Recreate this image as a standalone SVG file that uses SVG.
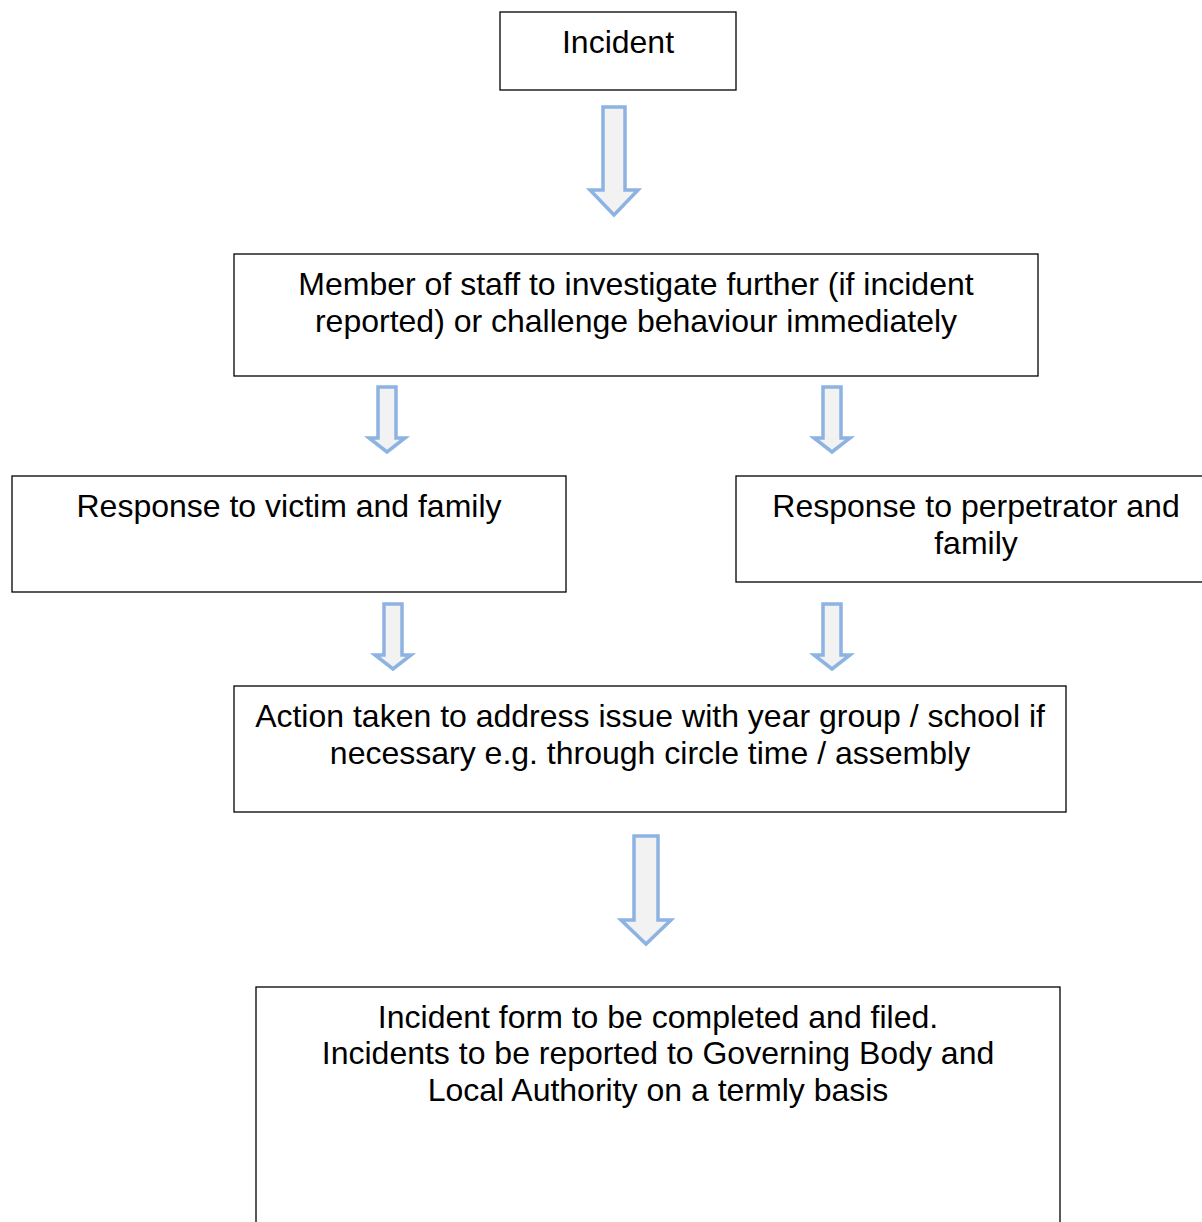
<svg xmlns="http://www.w3.org/2000/svg" width="1202" height="1222" viewBox="0 0 1202 1222">
<style>
.box{fill:#fff;stroke:#000;stroke-width:1.3}
.t{font-family:"Liberation Sans",Arial,sans-serif;font-size:32px;fill:#000;text-anchor:middle}
.arr{fill:#f2f2f2;stroke:#8db3e2;stroke-width:3.5;stroke-linejoin:miter}
</style>
<rect width="1202" height="1222" fill="#fff"/>
<g id="connectors">
<polygon class="arr" points="603,107 625,107 625,190 638,190 614,215 590,190 603,190"/>
<polygon class="arr" points="378,387 396,387 396,438 405,438 387,452 369,438 378,438"/>
<polygon class="arr" points="823,387 841,387 841,438 850,438 832,452 814,438 823,438"/>
<polygon class="arr" points="384,604 402,604 402,655 411,655 393,669 375,655 384,655"/>
<polygon class="arr" points="823,604 841,604 841,655 850,655 832,669 814,655 823,655"/>
<polygon class="arr" points="634,836 658,836 658,920 671,920 646,944 621,920 634,920"/>
</g>
<g id="incident">
<rect class="box" x="500" y="12" width="236" height="78"/>
<text class="t" x="618" y="53">Incident</text>
</g>
<g id="staff">
<rect class="box" x="234" y="254" width="804" height="122"/>
<text class="t" x="636" y="295">Member of staff to investigate further (if incident</text>
<text class="t" x="636" y="332">reported) or challenge behaviour immediately</text>
</g>
<g id="victim">
<rect class="box" x="12" y="476" width="554" height="116"/>
<text class="t" x="289" y="517">Response to victim and family</text>
</g>
<g id="perpetrator">
<rect class="box" x="736" y="476" width="480" height="106"/>
<text class="t" x="976" y="517">Response to perpetrator and</text>
<text class="t" x="976" y="554">family</text>
</g>
<g id="action">
<rect class="box" x="234" y="686" width="832" height="126"/>
<text class="t" x="650" y="727">Action taken to address issue with year group / school if</text>
<text class="t" x="650" y="764">necessary e.g. through circle time / assembly</text>
</g>
<g id="form">
<rect class="box" x="256" y="987" width="804" height="250"/>
<text class="t" x="658" y="1028">Incident form to be completed and filed.</text>
<text class="t" x="658" y="1064">Incidents to be reported to Governing Body and</text>
<text class="t" x="658" y="1101">Local Authority on a termly basis</text>
</g>
</svg>
